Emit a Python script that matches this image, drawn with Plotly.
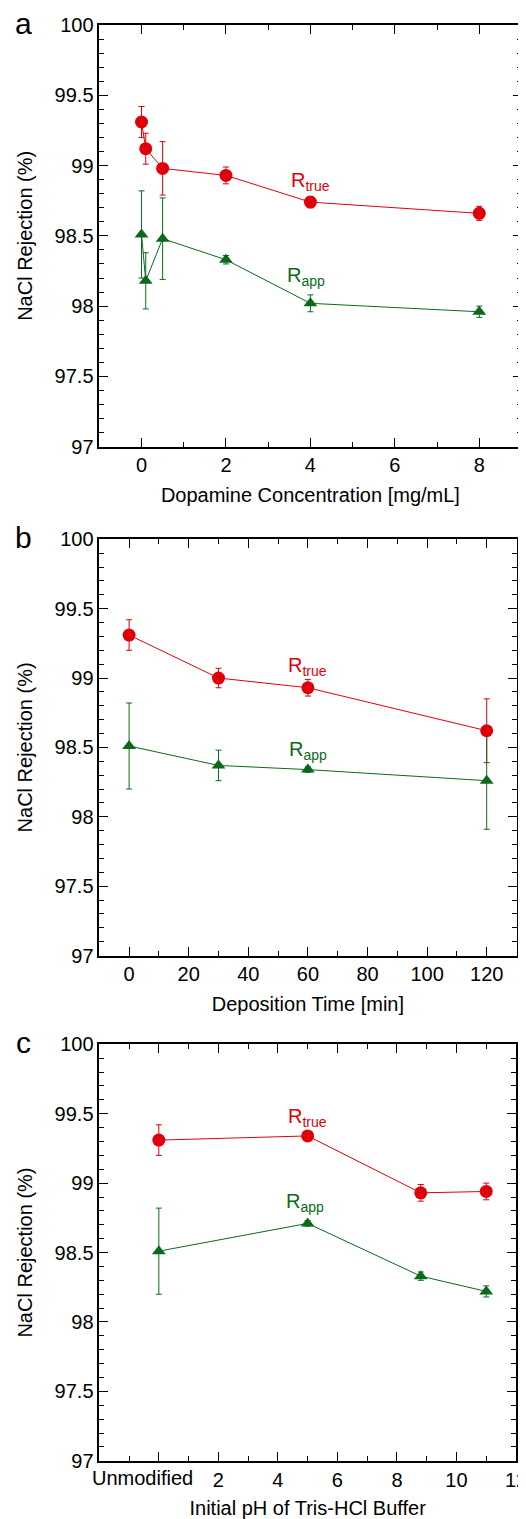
import plotly.graph_objects as go

# page offset caused by the browser's default body margin
OFF = 8
W, H = 526 - OFF, 1519 - OFF

# ---- data ----
conc = [0, 0.1, 0.5, 2, 4, 8]
a_true = [99.31, 99.12, 98.98, 98.93, 98.74, 98.66]
a_true_err = [0.11, 0.11, 0.19, 0.06, 0.04, 0.05]
a_app = [98.51, 98.18, 98.48, 98.33, 98.02, 97.96]
a_app_err = [0.31, 0.20, 0.29, 0.03, 0.06, 0.04]

time_min = [0, 30, 60, 120]
b_true = [99.31, 99.00, 98.93, 98.62]
b_true_err = [0.11, 0.07, 0.06, 0.23]
b_app = [98.51, 98.37, 98.34, 98.26]
b_app_err = [0.31, 0.11, 0.02, 0.35]

ph = [0, 5, 8.8, 11]
c_true = [99.31, 99.34, 98.93, 98.94]
c_true_err = [0.11, 0.01, 0.06, 0.06]
c_app = [98.51, 98.71, 98.33, 98.22]
c_app_err = [0.31, 0.02, 0.03, 0.04]

c_tickvals = [0, 2, 4, 6, 8, 10, 12]
c_ticktext = ["", "2", "4", "6", "8", "10", "12"]
c_first_label = "Unmodified"

panel_letters = ["a", "b", "c"]
x_titles = ["Dopamine Concentration [mg/mL]", "Deposition Time [min]",
            "Initial pH of Tris-HCl Buffer"]
y_title = "NaCl Rejection (%)"

RED = "#e0000a"
GREEN = "#0a6a1c"
FONT = "Liberation Sans, Arial, sans-serif"


def px_x(x):
    return (x - OFF) / W


def px_y(y):
    return 1 - (y - OFF) / H


fig = go.Figure()

panels = [
    (conc, a_true, a_true_err, a_app, a_app_err),
    (time_min, b_true, b_true_err, b_app, b_app_err),
    (ph, c_true, c_true_err, c_app, c_app_err),
]

for i, (xs, yt, et, ya, ea) in enumerate(panels):
    sfx = "" if i == 0 else str(i + 1)
    xa, ya_ref = "x" + sfx, "y" + sfx
    fig.add_trace(go.Scatter(
        x=xs, y=yt, mode="markers", xaxis=xa, yaxis=ya_ref,
        marker=dict(size=13, color=RED, opacity=0),
        error_y=dict(type="data", array=et, color=RED, thickness=1, width=3),
        showlegend=False, hoverinfo="skip"))
    fig.add_trace(go.Scatter(
        x=xs, y=ya, mode="lines+markers", xaxis=xa, yaxis=ya_ref,
        line=dict(color=GREEN, width=1),
        marker=dict(symbol="triangle-up", size=12, color=GREEN),
        error_y=dict(type="data", array=ea, color=GREEN, thickness=1, width=3),
        showlegend=False, name="R_app"))
    fig.add_trace(go.Scatter(
        x=xs, y=yt, mode="lines+markers", xaxis=xa, yaxis=ya_ref,
        line=dict(color=RED, width=1),
        marker=dict(symbol="circle", size=13, color=RED),
        showlegend=False, name="R_true"))

# plot boxes in page pixels (left, right, top, bottom)
boxes = [(99.3, 521.5, 25.0, 446.7),
         (99.3, 516.5, 539.3, 955.5),
         (99.3, 516.0, 1044.3, 1460.8)]
xranges = [[-1, 9], [-10, 130], [-2, 12]]
xdticks = [(2, 1), (20, 10), (2, 1)]

axis_common = dict(
    showline=True, linecolor="black", linewidth=1.5, mirror="allticks",
    ticks="inside", ticklen=9, tickwidth=1.2, tickcolor="black",
    showgrid=False, zeroline=False, automargin=False, tickangle=0,
    ticklabeloverflow="allow",
    tickfont=dict(family=FONT, size=20, color="black"),
)

layout = {}
for i, (l, r, t, b) in enumerate(boxes):
    sfx = "" if i == 0 else str(i + 1)
    dmaj, dmin = xdticks[i]
    xax = dict(axis_common)
    xax.update(
        domain=[px_x(l), px_x(r)], range=xranges[i], anchor="y" + sfx,
        dtick=dmaj, tick0=0,
        minor=dict(dtick=dmin, tick0=0, ticks="inside", ticklen=5,
                   tickwidth=1.2, tickcolor="black", showgrid=False),
        title=dict(text=x_titles[i], font=dict(family=FONT, size=20, color="black"),
                   standoff=13),
    )
    if i == 2:
        xax.update(tickmode="array", tickvals=c_tickvals, ticktext=c_ticktext)
    yax = dict(axis_common)
    yax.update(
        domain=[px_y(b), px_y(t)], range=[97, 100], anchor="x" + sfx,
        dtick=0.5, tick0=97,
        minor=dict(dtick=0.1, tick0=97, ticks="inside", ticklen=5,
                   tickwidth=1.2, tickcolor="black", showgrid=False),
        title=dict(text=y_title, font=dict(family=FONT, size=20, color="black"),
                   standoff=17),
    )
    layout["xaxis" + sfx] = xax
    layout["yaxis" + sfx] = yax

annotations = []
label_pos = [
    ((4.0, 98.885), (3.9, 98.21)),
    ((60, 99.08), (60, 98.48)),
    ((5, 99.47), (4.9, 98.86)),
]
for i, ((xt, yt_), (xa_, ya_)) in enumerate(label_pos):
    sfx = "" if i == 0 else str(i + 1)
    annotations.append(dict(x=xt, y=yt_, xref="x" + sfx, yref="y" + sfx,
                            text="R<sub>true</sub>", showarrow=False,
                            font=dict(family=FONT, size=20, color=RED)))
    annotations.append(dict(x=xa_, y=ya_, xref="x" + sfx, yref="y" + sfx,
                            text="R<sub>app</sub>", showarrow=False,
                            font=dict(family=FONT, size=20, color=GREEN)))

# "Unmodified" category label of panel c, set left of its tick as in the source
annotations.append(dict(x=-0.55, y=px_y(1478.3), xref="x3", yref="paper",
                        text=c_first_label, showarrow=False,
                        xanchor="center", yanchor="middle",
                        font=dict(family=FONT, size=20, color="black")))

letter_y = [23, 538, 1042]
for letter, yy in zip(panel_letters, letter_y):
    annotations.append(dict(x=px_x(23), y=px_y(yy), xref="paper", yref="paper",
                            text=letter, showarrow=False,
                            xanchor="center", yanchor="middle",
                            font=dict(family=FONT, size=30, color="black")))

fig.update_layout(
    width=W, height=H,
    margin=dict(l=0, r=0, t=0, b=0),
    paper_bgcolor="white", plot_bgcolor="white",
    font=dict(family=FONT, size=20, color="black"),
    annotations=annotations,
    **layout,
)

fig.write_html("out.html")
